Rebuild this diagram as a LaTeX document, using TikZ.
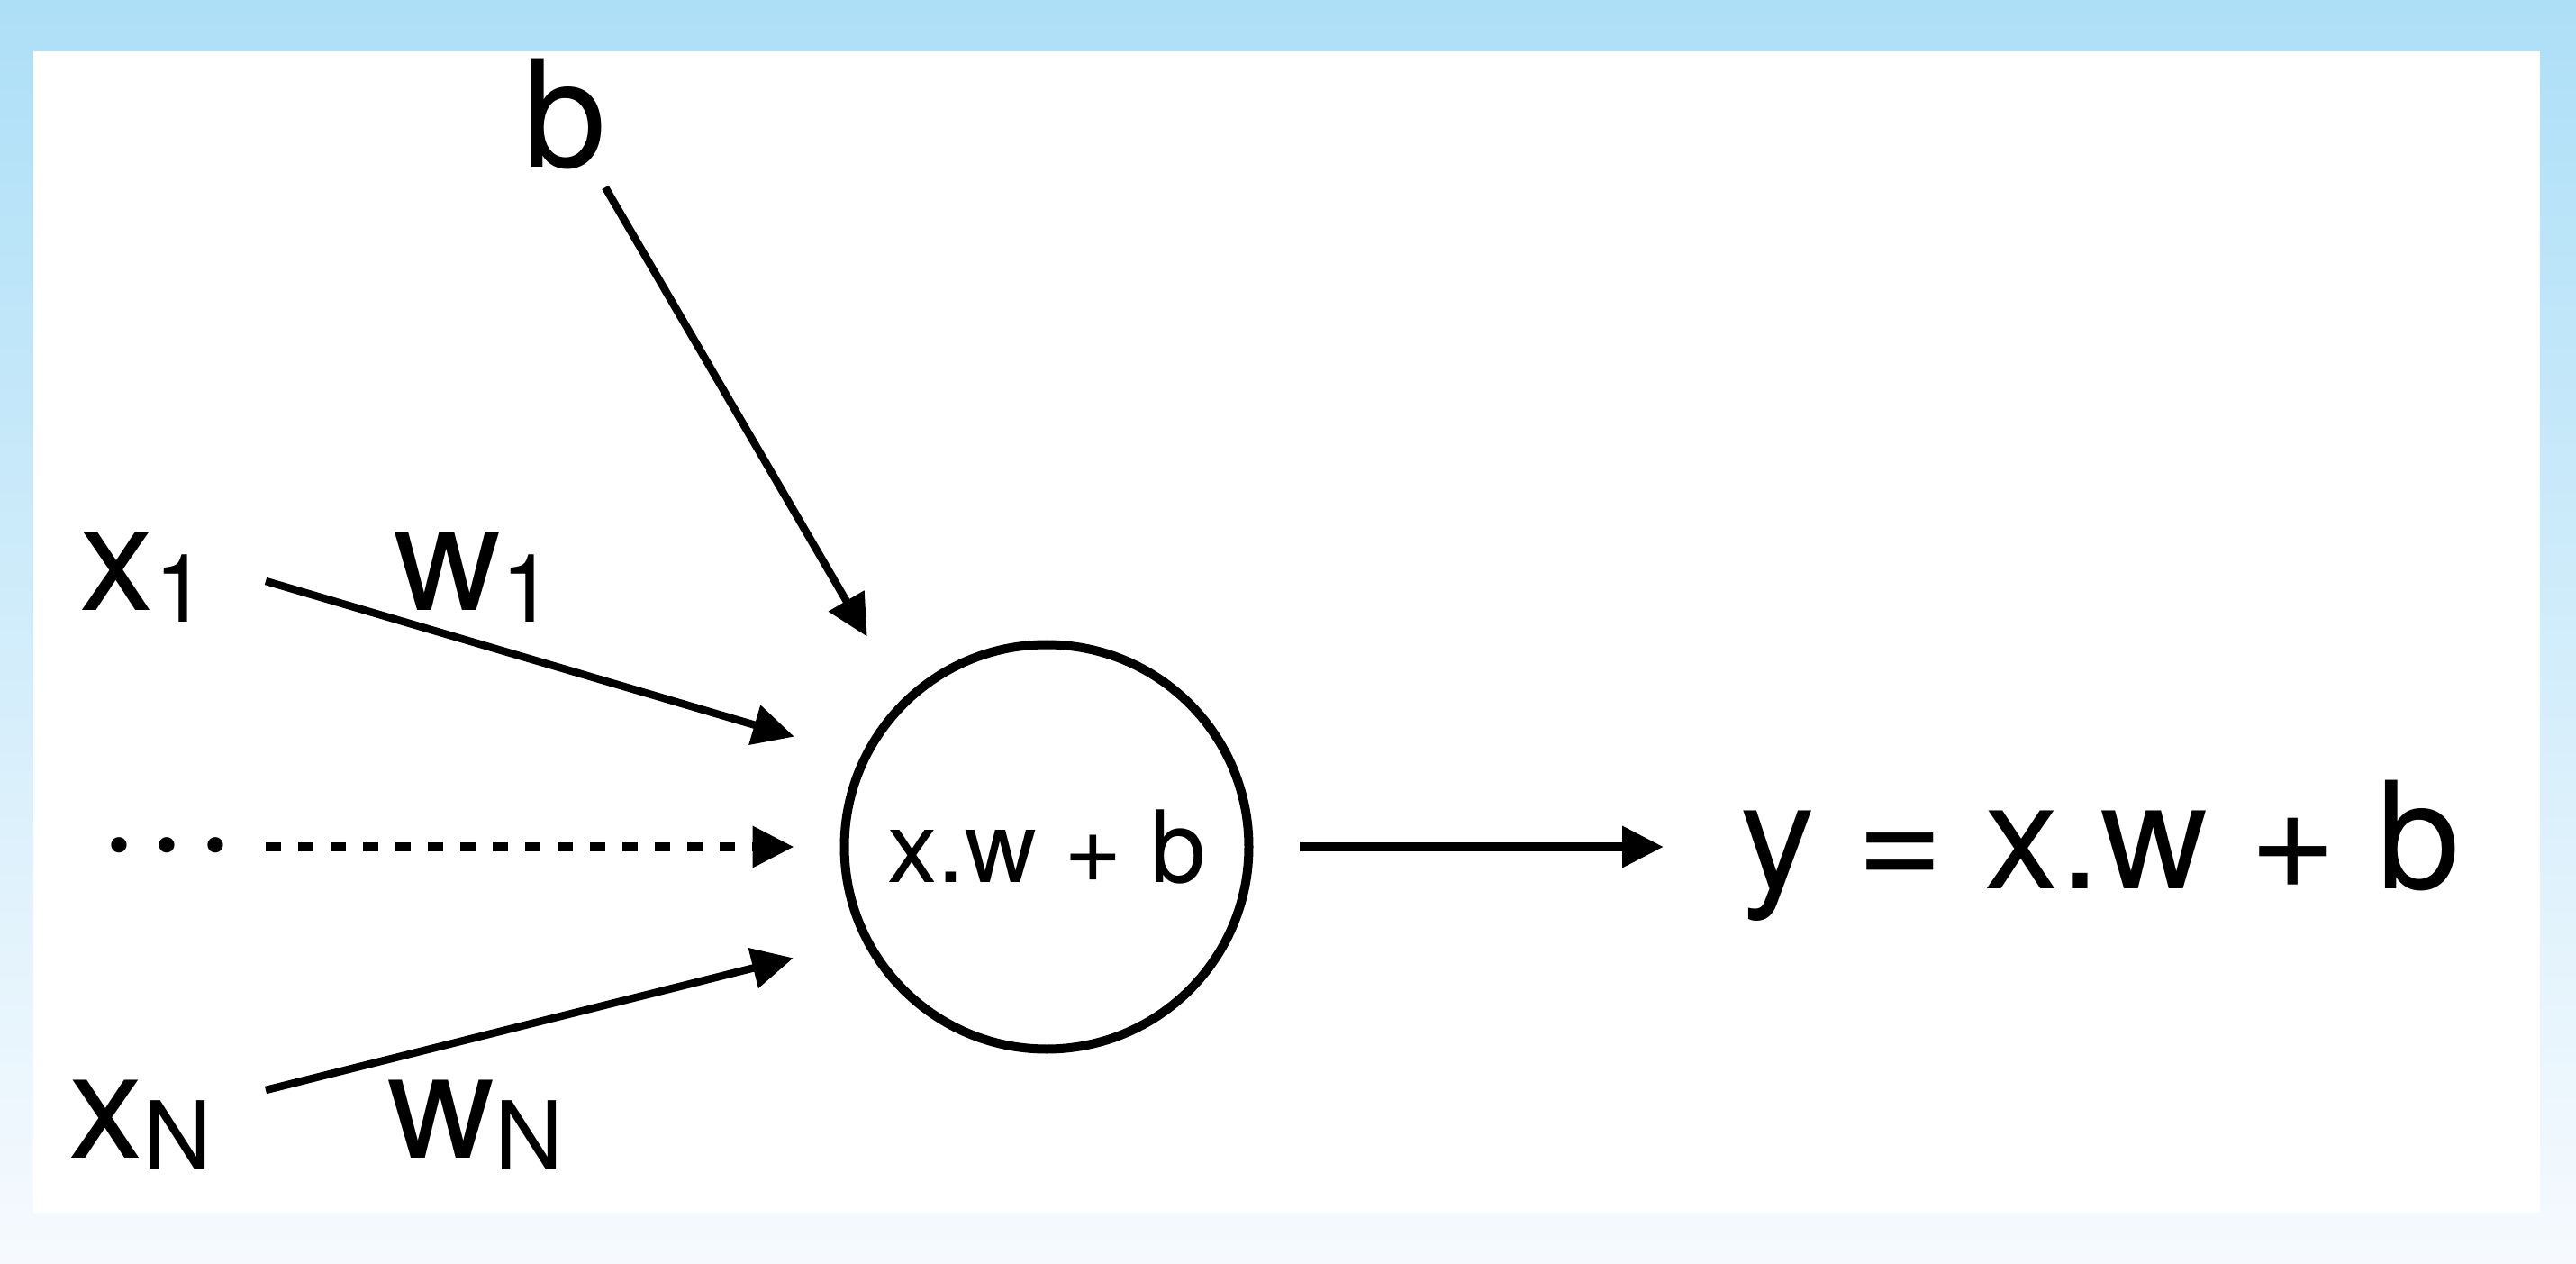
\documentclass[tikz,border=0pt]{standalone}
\usepackage{fontspec}
\setmainfont{TeX Gyre Heros}
\usetikzlibrary{arrows.meta,positioning,calc}
\definecolor{ink}{RGB}{0,0,0}
\definecolor{frameTop}{RGB}{173,223,247}
\definecolor{frameBottom}{RGB}{246,250,254}
\definecolor{panel}{RGB}{255,255,255}
\tikzset{
  bigText/.style={font=\fontsize{47}{47}\selectfont, text=ink, inner sep=0pt},
  smallText/.style={font=\fontsize{31.5}{31.5}\selectfont, text=ink},
  neuronBlock/.style={circle, draw=ink, line width=0.1cm, minimum size=4.49cm,
    inner sep=0pt, smallText},
  arrow/.style={-{Triangle[length=0.46cm,width=0.44cm]}, line width=0.085cm, draw=ink},
  dashArrow/.style={arrow, line width=0.1cm, dash pattern=on 0.17cm off 0.19cm},
  outArrow/.style={arrow, line width=0.1cm}
}
\newcommand{\subLabel}[2]{#1\raisebox{-0.13cm}{\fontsize{30}{30}\selectfont #2}}

\begin{document}
\begin{tikzpicture}[x=1cm,y=1cm]

% Background
\shade[top color=frameTop, bottom color=frameBottom] (0,0) rectangle (28.6,14.02);
\fill[panel] (0.37,0.56) rectangle (28.20,13.45);

% Neuron
\node[neuronBlock] (neuron) at (11.62,4.62) {x.w + b};

% Bias
\node[bigText, anchor=base] (bias) at (6.27,12.16) {b};
\coordinate (biasStart) at (6.72,11.94);

% Inputs and weights
\node[bigText, anchor=base west] (x1) at (0.88,7.25) {\subLabel{x}{1}};
\node[bigText, anchor=base west] (w1) at (4.37,7.25) {\subLabel{w}{1}};
\node[bigText, anchor=base west] (xN) at (0.76,1.17) {\subLabel{x}{N}};
\node[bigText, anchor=base west] (wN) at (4.30,1.17) {\subLabel{w}{N}};
\node[bigText, anchor=base] (dots) at (1.86,4.23)
  {\textperiodcentered\hspace{0.08cm}\textperiodcentered\hspace{0.08cm}\textperiodcentered};
\coordinate (x1Start) at (2.95,7.57);
\coordinate (dotsStart) at (2.95,4.62);
\coordinate (xNStart) at (2.95,1.92);

% Output
\node[bigText, anchor=base west] (out) at (19.32,4.16) {y = x.w + b};

\draw[arrow, shorten >=0.79cm] (biasStart) -- (neuron.134);
\draw[arrow, shorten >=0.77cm] (x1Start) -- (neuron.154);
\draw[dashArrow, shorten >=0.51cm] (dotsStart) -- (neuron.west);
\draw[arrow, shorten >=0.79cm] (xNStart) -- (neuron.207);
\draw[outArrow, shorten <=0.51cm, shorten >=0.85cm] (neuron.east) -- (neuron.east -| out.west);

\end{tikzpicture}
\end{document}
